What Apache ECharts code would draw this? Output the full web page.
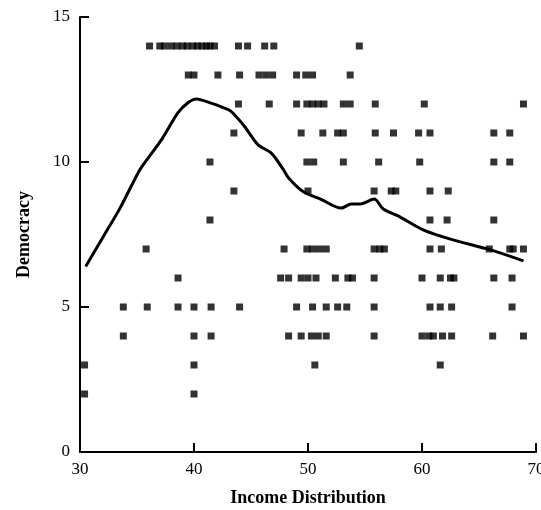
<!DOCTYPE html>
<html>
<head>
<meta charset="utf-8">
<script src="https://cdn.jsdelivr.net/npm/echarts@6/dist/echarts.min.js"></script>
<style>
html,body{margin:0;padding:0;background:#fff;}
#chart{width:541px;height:510px;}
</style>
</head>
<body>
<div id="chart"></div>
<script>
// Democracy score (y) for each row, with income-distribution values (x) of the cases in that row
const democracyLevels = [14, 13, 12, 11, 10, 9, 8, 7, 6, 5, 4, 3, 2];
const row14 = [36.1, 37.0, 37.4, 38.0, 38.5, 39.0, 39.4, 39.9, 40.3, 40.7, 41.1, 41.4, 41.8, 43.9, 44.7, 46.2, 47.0, 54.5];
const row13 = [39.5, 40.0, 42.1, 44.0, 45.7, 46.3, 46.9, 49.0, 49.8, 50.4, 53.7];
const row12 = [43.9, 46.6, 49.0, 49.9, 50.4, 50.9, 51.4, 53.1, 53.7, 55.9, 60.2, 68.9];
const row11 = [43.5, 49.4, 51.3, 52.6, 53.1, 55.9, 57.5, 59.7, 60.7, 66.3, 67.7];
const row10 = [41.4, 49.9, 50.5, 53.1, 56.2, 59.8, 66.3, 67.7];
const row9 = [43.5, 50.0, 55.8, 57.3, 57.7, 60.7, 62.3];
const row8 = [41.4, 60.7, 62.2, 66.3];
const row7 = [35.8, 47.9, 49.9, 50.4, 51.0, 51.6, 55.8, 56.3, 56.7, 60.7, 61.7, 65.9, 67.7, 68.0, 68.9];
const row6 = [38.6, 47.6, 48.3, 49.4, 50.0, 50.7, 52.4, 53.5, 53.9, 55.8, 60.0, 61.6, 62.5, 62.8, 66.3, 67.9];
const row5 = [33.8, 35.9, 38.6, 40.0, 41.5, 44.0, 49.0, 50.4, 51.6, 52.6, 53.4, 55.8, 60.7, 61.6, 62.6, 67.9];
const row4 = [33.8, 40.0, 41.5, 48.3, 49.4, 50.3, 50.9, 51.6, 55.8, 60.0, 60.6, 61.0, 61.8, 62.6, 66.2, 68.9];
const row3 = [30.4, 40.0, 50.6, 61.6];
const row2 = [30.4, 40.0];
const rows = [row14, row13, row12, row11, row10, row9, row8, row7, row6, row5, row4, row3, row2];

// Smoothed (loess) curve
const loessX = [30.5, 32.0, 33.5, 35.2, 36.0, 37.2, 38.6, 39.5, 40.2, 41.5, 42.4, 43.2, 44.4, 45.6, 46.8, 47.8, 48.3, 49.6, 51.1, 52.9, 53.8, 54.6, 55.8, 56.6, 57.9, 60.1, 62.5, 66.0, 68.9];
const loessY = [6.4, 7.4, 8.4, 9.7, 10.15, 10.8, 11.7, 12.05, 12.17, 12.03, 11.9, 11.76, 11.24, 10.6, 10.3, 9.76, 9.45, 8.97, 8.72, 8.41, 8.55, 8.55, 8.72, 8.38, 8.14, 7.66, 7.34, 6.97, 6.59];

// Axis ticks
const xTicks = [30, 40, 50, 60, 70];
const yTicks = [0, 5, 10, 15];

const scatterData = [];
rows.forEach((r, i) => r.forEach(x => scatterData.push([x, democracyLevels[i]])));
const lineData = loessX.map((x, i) => [x, loessY[i]]);

const font = 'Liberation Serif';
const chart = echarts.init(document.getElementById('chart'));
chart.setOption({
  animation: false,
  backgroundColor: '#fff',
  grid: {left: 80, right: 5, top: 17, bottom: 58, containLabel: false, outerBoundsMode: 'none'},
  xAxis: {
    type: 'value', min: xTicks[0], max: xTicks[xTicks.length - 1], interval: 10,
    name: 'Income Distribution', nameLocation: 'middle', nameGap: 37,
    nameTextStyle: {fontFamily: font, fontSize: 18, fontWeight: 'bold', color: '#000'},
    axisLine: {lineStyle: {color: '#000', width: 2}},
    axisTick: {inside: true, length: 9, lineStyle: {color: '#000', width: 2}},
    axisLabel: {fontFamily: font, fontSize: 17, color: '#000', margin: 9, hideOverlap: false},
    splitLine: {show: false}
  },
  yAxis: {
    type: 'value', min: yTicks[0], max: yTicks[yTicks.length - 1], interval: 5,
    name: 'Democracy', nameLocation: 'middle', nameGap: 47,
    nameTextStyle: {fontFamily: font, fontSize: 18, fontWeight: 'bold', color: '#000'},
    axisLine: {show: true, lineStyle: {color: '#000', width: 2}},
    axisTick: {show: true, inside: true, length: 9, lineStyle: {color: '#000', width: 2}},
    axisLabel: {fontFamily: font, fontSize: 17, color: '#000', margin: 10},
    splitLine: {show: false}
  },
  series: [
    {
      type: 'line', data: lineData, showSymbol: false, smooth: 0.3,
      lineStyle: {color: '#000', width: 3}, z: 2
    },
    {
      type: 'scatter', data: scatterData, symbol: 'rect', symbolSize: 7,
      itemStyle: {color: '#000'}, z: 3
    }
  ]
});
</script>
</body>
</html>
